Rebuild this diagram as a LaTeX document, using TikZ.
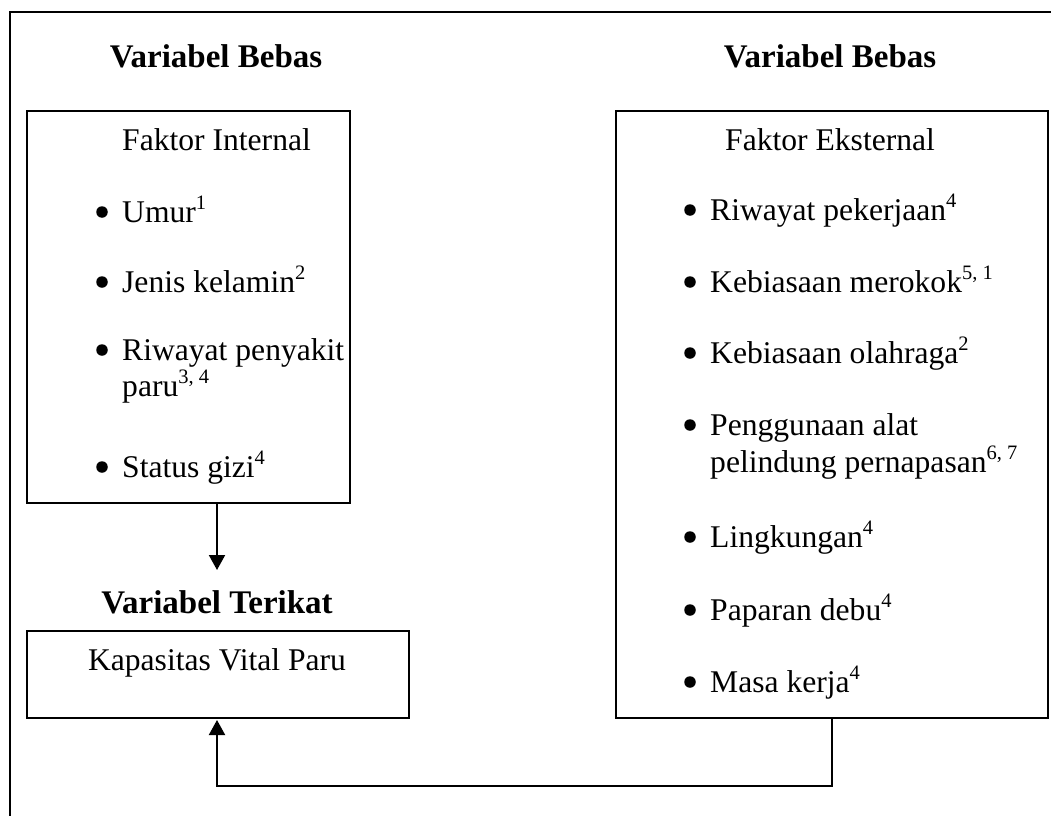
\documentclass[tikz,border=0pt]{standalone}
\usepackage{fontspec}
\setmainfont{Liberation Serif}
\usetikzlibrary{arrows.meta}
\newcommand\bodyfnt{\fontsize{31.6pt}{36pt}\selectfont}
\newcommand\ttlfnt{\fontsize{33pt}{38pt}\selectfont\bfseries}
\newcommand\supx[1]{\raisebox{13pt}{\fontsize{20.5pt}{20pt}\selectfont #1}}
\begin{document}
\begin{tikzpicture}[x=1pt,y=-1pt,
  box/.style={draw, line width=2pt, inner sep=0pt, anchor=north west},
  txt/.style={inner sep=0pt, anchor=base west, font=\bodyfnt},
  ttl/.style={inner sep=0pt, anchor=base, font=\ttlfnt},
  dot/.style={circle, fill, inner sep=0pt, minimum size=11.5pt},
  conn/.style={line width=2pt, -{Triangle[width=16pt,length=15pt]}}]
\useasboundingbox (0,0) rectangle (1051,816);
% outer frame (only top and left edges visible)
\draw[line width=2pt] (1051,12) -- (10,12) -- (10,816);
% titles
\node[ttl] (tl) at (216,67) {Variabel Bebas};
\node[ttl] (tr) at (830,67) {Variabel Bebas};
\node[ttl] (tt) at (217,613) {Variabel Terikat};
% boxes
\node[box, minimum width=323pt, minimum height=392pt] (intbox) at (26,110) {};
\node[box, minimum width=382pt, minimum height=87pt] (kap) at (26,630) {};
\node[box, minimum width=432pt, minimum height=607pt] (ext) at (615,110) {};
% internal factors
\node[txt] (fi) at (122,150) {Faktor Internal};
\node[dot] (bi1) at (102,212) {};
\node[txt] (i1) at (122,222) {Umur\supx{1}};
\node[dot] (bi2) at (102,282) {};
\node[txt] (i2) at (122,292) {Jenis kelamin\supx{2}};
\node[dot] (bi3) at (102,350) {};
\node[txt] (i3) at (122,360) {Riwayat penyakit};
\node[txt] (i3b) at (122,396) {paru\supx{3, 4}};
\node[dot] (bi4) at (102,467) {};
\node[txt] (i4) at (122,477) {Status gizi\supx{4}};
% dependent variable
\node[inner sep=0pt, anchor=base, font=\bodyfnt] (kt) at (217,670) {Kapasitas Vital Paru};
% external factors
\node[txt] (fe) at (725,150) {Faktor Eksternal};
\node[dot] (be1) at (690,210) {};
\node[txt] (e1) at (710,220) {Riwayat pekerjaan\supx{4}};
\node[dot] (be2) at (690,282) {};
\node[txt] (e2) at (710,292) {Kebiasaan merokok\supx{5, 1}};
\node[dot] (be3) at (690,353) {};
\node[txt] (e3) at (710,363) {Kebiasaan olahraga\supx{2}};
\node[dot] (be4) at (690,425) {};
\node[txt] (e4) at (710,435) {Penggunaan alat};
\node[txt] (e4b) at (710,472) {pelindung pernapasan\supx{6, 7}};
\node[dot] (be5) at (690,537) {};
\node[txt] (e5) at (710,547) {Lingkungan\supx{4}};
\node[dot] (be6) at (690,610) {};
\node[txt] (e6) at (710,620) {Paparan debu\supx{4}};
\node[dot] (be7) at (690,682) {};
\node[txt] (e7) at (710,692) {Masa kerja\supx{4}};
% connectors
\coordinate (atip) at (217,570);
\draw[conn] (intbox.south -| atip) -- (atip);
\coordinate (corner) at (ext.south |- 0,786);
\coordinate (ktip) at (217,720);
\draw[conn] (ext.south) -- (corner) -| (ktip);
\end{tikzpicture}
\end{document}
